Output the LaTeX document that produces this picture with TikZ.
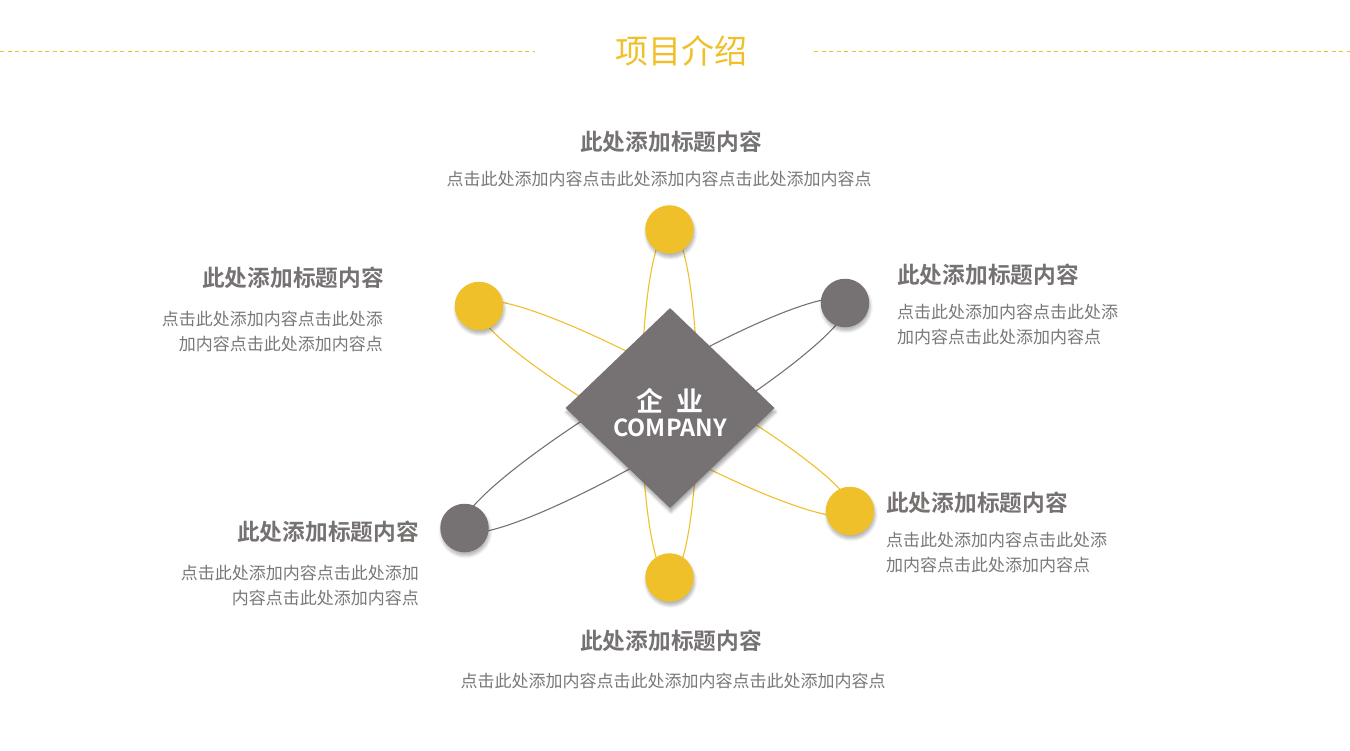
\documentclass[tikz,border=0pt]{standalone}
\usepackage{fontspec}
\setmainfont{Noto Sans CJK SC}
\newfontfamily\cjkb{Noto Sans CJK SC Bold}
\usetikzlibrary{shapes.geometric,shadows.blur}
\definecolor{gold}{RGB}{240,192,42}
\definecolor{slate}{RGB}{118,113,114}
\definecolor{txt}{RGB}{120,120,120}
\definecolor{ttl}{RGB}{118,114,114}
\tikzset{
  ball/.style={circle,inner sep=0pt,minimum size=48.5pt,
    blur shadow={shadow xshift=1pt,shadow yshift=-3.5pt,shadow opacity=30,shadow blur steps=6,shadow blur radius=3pt}},
  yball/.style={ball,fill=gold},
  gball/.style={ball,fill=slate},
  orbit/.style={line width=1.1pt},
  ttlstyle/.style={font=\cjkb\fontsize{22.7}{26}\selectfont,text=ttl,inner sep=0pt},
  txtstyle/.style={font=\fontsize{17}{25}\selectfont,text=txt,inner sep=0pt},
  hline/.style={gold,line width=0.9pt,dash pattern=on 4pt off 3.5pt}
}
\begin{document}
\begin{tikzpicture}[x=1pt,y=-1pt]
\useasboundingbox (0,0) rectangle (1350,751);
% header
\coordinate (hl1) at (0,51);
\coordinate (hl2) at (535,51);
\coordinate (hr1) at (814,51);
\coordinate (hr2) at (1350,51);
\draw[hline] (hl1) -- (hl2);
\draw[hline] (hr1) -- (hr2);
\node[font=\fontsize{33}{36}\selectfont,text=gold,inner sep=0pt] (head) at (681,51) {项目介绍};
% orbits
\draw[orbit,gold] (669.5,403.5) ellipse [x radius=28, y radius=175];
\draw[orbit,gold,shift={(664.5,408.5)},rotate=-29] (0,0) ellipse [x radius=214, y radius=33];
\draw[orbit,slate,shift={(654.75,415.5)},rotate=30.6] (0,0) ellipse [x radius=223, y radius=34];
% center
\node[diamond,fill=slate,inner sep=0pt,minimum width=209pt,minimum height=200pt,
  blur shadow={shadow xshift=1pt,shadow yshift=-4pt,shadow opacity=35,shadow blur steps=6,shadow blur radius=3pt}] (core) at (670,408) {};
\node[font=\cjkb\fontsize{27}{30}\selectfont,text=white,inner sep=0pt] (core1) at (670,401) {企\hspace{0.45em}业};
\node[font=\cjkb\fontsize{23.5}{26}\selectfont,text=white,inner sep=0pt] (core2) at (670,428) {COMPANY};
% balls
\node[yball] (b1) at (669.5,229.5) {};
\node[yball] (b2) at (479,306) {};
\node[gball] (b3) at (845,303) {};
\node[yball] (b4) at (850,511) {};
\node[gball] (b5) at (464.5,528) {};
\node[yball] (b6) at (669.5,577.5) {};
% texts
\node[ttlstyle] (t1) at (671,142) {此处添加标题内容};
\node[txtstyle] (s1) at (659,179) {点击此处添加内容点击此处添加内容点击此处添加内容点};
\node[ttlstyle,anchor=east] (t2) at (384,278) {此处添加标题内容};
\node[txtstyle,anchor=north east,align=right] (s2) at (383,311) {点击此处添加内容点击此处添\\加内容点击此处添加内容点};
\node[ttlstyle,anchor=west] (t3) at (897,275) {此处添加标题内容};
\node[txtstyle,anchor=north west,align=left] (s3) at (897,304) {点击此处添加内容点击此处添\\加内容点击此处添加内容点};
\node[ttlstyle,anchor=west] (t4) at (886,503) {此处添加标题内容};
\node[txtstyle,anchor=north west,align=left] (s4) at (886,532) {点击此处添加内容点击此处添\\加内容点击此处添加内容点};
\node[ttlstyle,anchor=east] (t5) at (419,532) {此处添加标题内容};
\node[txtstyle,anchor=north east,align=right] (s5) at (419,565) {点击此处添加内容点击此处添加\\内容点击此处添加内容点};
\node[ttlstyle] (t6) at (671,641) {此处添加标题内容};
\node[txtstyle] (s6) at (673,681) {点击此处添加内容点击此处添加内容点击此处添加内容点};
\end{tikzpicture}
\end{document}
